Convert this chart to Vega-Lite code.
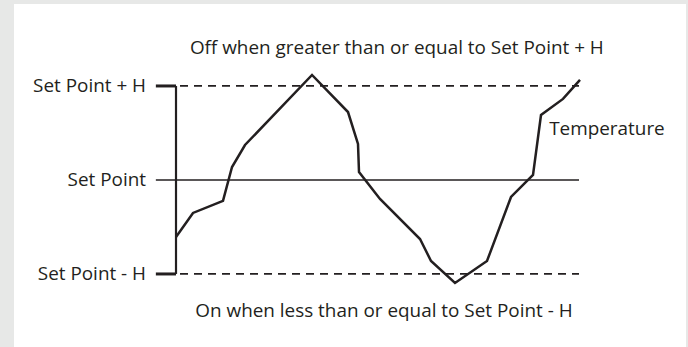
{
  "$schema": "https://vega.github.io/schema/vega-lite/v6.json",
  "width": 672,
  "height": 343,
  "autosize": {"type": "none"},
  "padding": {"left": 14, "top": 4, "right": 2, "bottom": 0},
  "background": "#e7e8e7",
  "view": {"fill": "white", "stroke": null},
  "config": {"text": {"font": "Open Sans", "fontSize": 18.9, "color": "#231f20"}},
  "datasets": {
    "labels": [
      {"label": "Set Point + H", "t": -7.44, "v": 1, "a": "right"},
      {"label": "Set Point", "t": -7.44, "v": 0, "a": "right"},
      {"label": "Set Point - H", "t": -7.44, "v": -1, "a": "right"},
      {"label": "Off when greater than or equal to Set Point + H", "t": 54.8, "v": 1.404, "a": "center"},
      {"label": "On when less than or equal to Set Point - H", "t": 51.6, "v": -1.394, "a": "center"},
      {"label": "Temperature", "t": 92.6, "v": 0.543, "a": "left"}
    ]
  },
  "layer": [
    {
      "data": {"values": [
        {"t1": 0, "t2": 100, "v": 1},
        {"t1": 0, "t2": 100, "v": -1}
      ]},
      "mark": {"type": "rule", "color": "#231f20", "strokeWidth": 1.7, "strokeDash": [8, 6], "strokeDashOffset": -4},
      "encoding": {
        "x": {"field": "t1", "type": "quantitative", "scale": {"domain": [-40.2, 126.55], "nice": false, "zero": false}, "axis": null},
        "x2": {"field": "t2"},
        "y": {"field": "v", "type": "quantitative", "scale": {"domain": [-1.777, 1.872], "nice": false, "zero": false}, "axis": null}
      }
    },
    {
      "data": {"values": [
        {"t1": -5, "t2": 100, "v": 0}
      ]},
      "mark": {"type": "rule", "color": "#231f20", "strokeWidth": 1.6},
      "encoding": {
        "x": {"field": "t1", "type": "quantitative"},
        "x2": {"field": "t2"},
        "y": {"field": "v", "type": "quantitative"}
      }
    },
    {
      "data": {"values": [
        {"t1": -5, "t2": 0, "v": 1},
        {"t1": -5, "t2": 0, "v": -1}
      ]},
      "mark": {"type": "rule", "color": "#231f20", "strokeWidth": 3},
      "encoding": {
        "x": {"field": "t1", "type": "quantitative"},
        "x2": {"field": "t2"},
        "y": {"field": "v", "type": "quantitative"}
      }
    },
    {
      "data": {"values": [
        {"t": 0, "v1": -1, "v2": 1}
      ]},
      "mark": {"type": "rule", "color": "#231f20", "strokeWidth": 2.2},
      "encoding": {
        "x": {"field": "t", "type": "quantitative"},
        "y": {"field": "v1", "type": "quantitative"},
        "y2": {"field": "v2"}
      }
    },
    {
      "data": {"values": [
        {"i": 1, "t": 0, "v": -0.606},
        {"i": 2, "t": 4.22, "v": -0.351},
        {"i": 3, "t": 11.66, "v": -0.223},
        {"i": 4, "t": 13.9, "v": 0.138},
        {"i": 5, "t": 17.12, "v": 0.372},
        {"i": 6, "t": 33.75, "v": 1.117},
        {"i": 7, "t": 42.68, "v": 0.723},
        {"i": 8, "t": 45.16, "v": 0.383},
        {"i": 9, "t": 45.41, "v": 0.085},
        {"i": 10, "t": 50.62, "v": -0.202},
        {"i": 11, "t": 60.55, "v": -0.628},
        {"i": 12, "t": 63.28, "v": -0.862},
        {"i": 13, "t": 69.23, "v": -1.096},
        {"i": 14, "t": 77.17, "v": -0.862},
        {"i": 15, "t": 83.13, "v": -0.181},
        {"i": 16, "t": 88.59, "v": 0.053},
        {"i": 17, "t": 90.57, "v": 0.691},
        {"i": 18, "t": 96.03, "v": 0.862},
        {"i": 19, "t": 100.25, "v": 1.064}
      ]},
      "mark": {"type": "line", "color": "#231f20", "strokeWidth": 2.5, "strokeJoin": "miter"},
      "encoding": {
        "x": {"field": "t", "type": "quantitative"},
        "y": {"field": "v", "type": "quantitative"},
        "order": {"field": "i", "type": "quantitative"}
      }
    },
    {
      "data": {"name": "labels"},
      "transform": [{"filter": "datum.a === 'right'"}],
      "mark": {"type": "text", "baseline": "middle", "align": "right"},
      "encoding": {
        "x": {"field": "t", "type": "quantitative"},
        "y": {"field": "v", "type": "quantitative"},
        "text": {"field": "label"}
      }
    },
    {
      "data": {"name": "labels"},
      "transform": [{"filter": "datum.a === 'center'"}],
      "mark": {"type": "text", "baseline": "middle", "align": "center"},
      "encoding": {
        "x": {"field": "t", "type": "quantitative"},
        "y": {"field": "v", "type": "quantitative"},
        "text": {"field": "label"}
      }
    },
    {
      "data": {"name": "labels"},
      "transform": [{"filter": "datum.a === 'left'"}],
      "mark": {"type": "text", "baseline": "middle", "align": "left"},
      "encoding": {
        "x": {"field": "t", "type": "quantitative"},
        "y": {"field": "v", "type": "quantitative"},
        "text": {"field": "label"}
      }
    }
  ]
}
